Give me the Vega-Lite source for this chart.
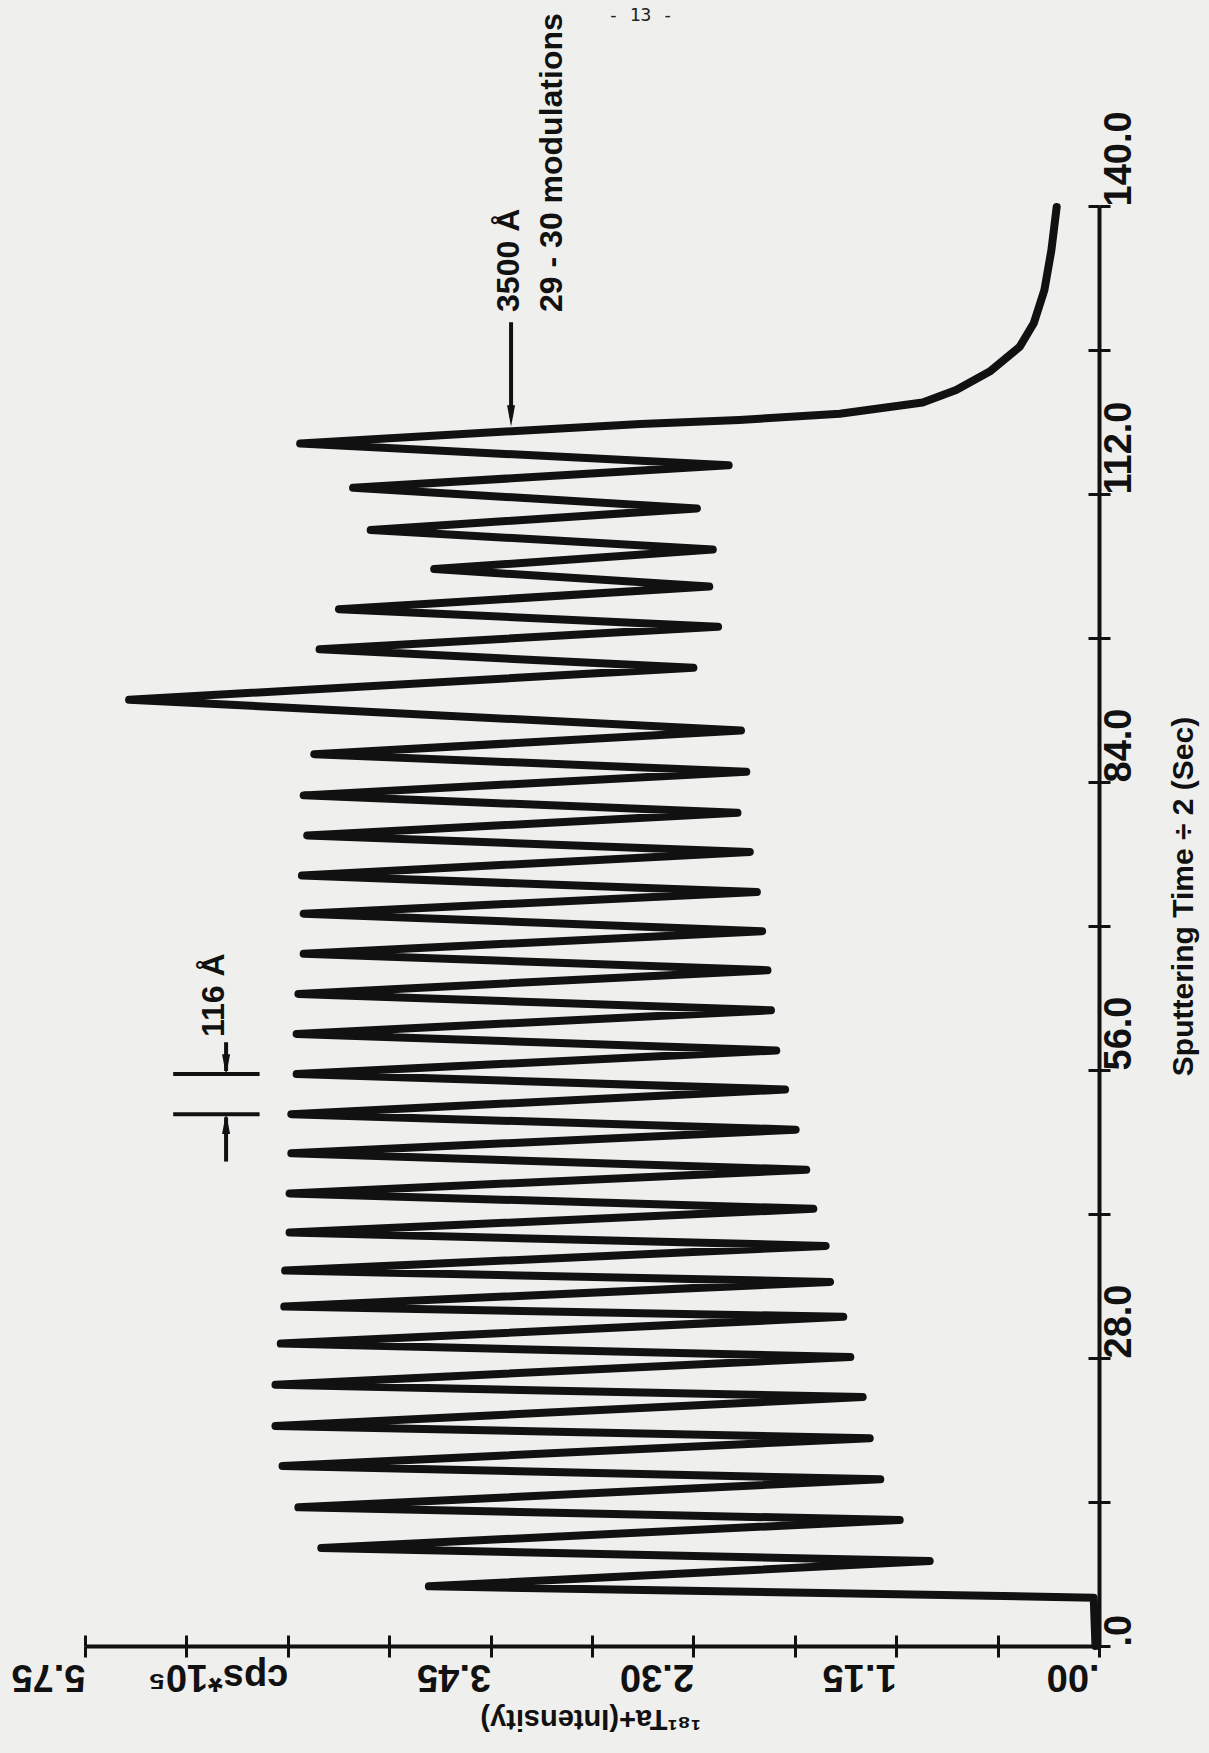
{
  "$schema": "https://vega.github.io/schema/vega-lite/v6.json",
  "width": 1014,
  "height": 1440,
  "autosize": {"type": "none"},
  "padding": {"left": 85, "top": 206, "right": 110, "bottom": 107},
  "background": "#efefed",
  "config": {"view": {"stroke": null}},
  "encoding": {
    "x": {
      "field": "I", "type": "quantitative",
      "scale": {"domain": [5.75, 0], "nice": false, "zero": false},
      "axis": {
        "orient": "bottom",
        "values": [0, 0.575, 1.15, 1.725, 2.3, 2.875, 3.45, 4.025, 4.6, 5.175, 5.75],
        "labelExpr": "datum.value < 0.01 ? '.00' : (abs(datum.value - 4.6) < 0.01 ? 'cps*10⁵' : (round(datum.value / 0.575) % 2 == 1 ? '' : format(datum.value, '.2f')))",
        "labelAngle": 180, "labelAlign": "left", "labelBaseline": "alphabetic", "labelPadding": 7,
        "labelFont": "Liberation Sans", "labelFontWeight": "bold", "labelFontSize": 38, "labelColor": "#111",
        "labelOverlap": false, "labelFlush": false, "labelBound": false,
        "tickSize": 11, "tickWidth": 3, "tickColor": "#111",
        "domainWidth": 4, "domainColor": "#111",
        "grid": true, "gridDash": [11, 3000], "gridWidth": 3, "gridColor": "#111", "gridOpacity": 1,
        "title": "¹⁸¹Ta+(Intensity)", "titleAngle": 180, "titleX": 505, "titleY": 63,
        "titleAlign": "center", "titleBaseline": "alphabetic",
        "titleFont": "Liberation Sans", "titleFontWeight": "bold", "titleFontSize": 29, "titleColor": "#111"
      }
    },
    "y": {
      "field": "t", "type": "quantitative",
      "scale": {"domain": [140, 0], "reverse": true, "nice": false, "zero": false},
      "axis": {
        "orient": "right",
        "values": [0, 14, 28, 42, 56, 70, 84, 98, 112, 126, 140],
        "labelExpr": "datum.value == 0 ? '.0' : (datum.value % 28 == 0 ? format(datum.value, '.1f') : '')",
        "labelAngle": 270, "labelAlign": "left", "labelBaseline": "alphabetic", "labelPadding": 20,
        "labelFont": "Liberation Sans", "labelFontWeight": "bold", "labelFontSize": 38, "labelColor": "#111",
        "labelOverlap": false, "labelFlush": false, "labelBound": false,
        "tickSize": 11, "tickWidth": 3, "tickColor": "#111",
        "domainWidth": 4, "domainColor": "#111",
        "grid": true, "gridDash": [11, 3000], "gridWidth": 3, "gridColor": "#111", "gridOpacity": 1,
        "title": "Sputtering Time ÷ 2 (Sec)", "titleAngle": 270, "titleX": 93, "titleY": 690,
        "titleAlign": "center", "titleBaseline": "alphabetic",
        "titleFont": "Liberation Sans", "titleFontWeight": "bold", "titleFontSize": 30, "titleColor": "#111"
      }
    }
  },
  "layer": [
    {
      "data": {"values": [
        {"t": 0, "I": 0.02}, {"t": 4.7, "I": 0.03}, {"t": 5.8, "I": 3.8},
        {"t": 8.26, "I": 0.96}, {"t": 9.53, "I": 4.41}, {"t": 12.25, "I": 1.13},
        {"t": 13.48, "I": 4.54}, {"t": 16.2, "I": 1.24}, {"t": 17.5, "I": 4.63},
        {"t": 20.2, "I": 1.3}, {"t": 21.4, "I": 4.67}, {"t": 24.2, "I": 1.34},
        {"t": 25.4, "I": 4.67}, {"t": 28.1, "I": 1.41}, {"t": 29.4, "I": 4.64},
        {"t": 32.0, "I": 1.45}, {"t": 33.0, "I": 4.62}, {"t": 35.4, "I": 1.525},
        {"t": 36.5, "I": 4.615}, {"t": 38.9, "I": 1.55}, {"t": 40.2, "I": 4.59},
        {"t": 42.5, "I": 1.62}, {"t": 44.0, "I": 4.59}, {"t": 46.3, "I": 1.66},
        {"t": 47.9, "I": 4.58}, {"t": 50.2, "I": 1.72}, {"t": 51.7, "I": 4.58},
        {"t": 54.1, "I": 1.78}, {"t": 55.6, "I": 4.55}, {"t": 57.9, "I": 1.83},
        {"t": 59.5, "I": 4.55}, {"t": 61.8, "I": 1.86}, {"t": 63.4, "I": 4.54},
        {"t": 65.7, "I": 1.88}, {"t": 67.3, "I": 4.51}, {"t": 69.5, "I": 1.91},
        {"t": 71.2, "I": 4.51}, {"t": 73.3, "I": 1.94}, {"t": 74.9, "I": 4.52},
        {"t": 77.2, "I": 1.98}, {"t": 78.8, "I": 4.49}, {"t": 81.0, "I": 2.05},
        {"t": 82.7, "I": 4.51}, {"t": 85.0, "I": 2.0}, {"t": 86.7, "I": 4.45},
        {"t": 89.0, "I": 2.03}, {"t": 92.0, "I": 5.5}, {"t": 95.1, "I": 2.3},
        {"t": 96.9, "I": 4.42}, {"t": 99.1, "I": 2.16}, {"t": 100.8, "I": 4.31},
        {"t": 103.0, "I": 2.21}, {"t": 104.7, "I": 3.77}, {"t": 106.6, "I": 2.19},
        {"t": 108.5, "I": 4.13}, {"t": 110.6, "I": 2.28}, {"t": 112.6, "I": 4.23},
        {"t": 114.8, "I": 2.1}, {"t": 116.9, "I": 4.53}, {"t": 118.1, "I": 3.33},
        {"t": 118.8, "I": 2.6}, {"t": 119.2, "I": 2.04}, {"t": 119.8, "I": 1.47},
        {"t": 120.9, "I": 1.0}, {"t": 122.1, "I": 0.81}, {"t": 123.9, "I": 0.62},
        {"t": 126.3, "I": 0.45}, {"t": 128.6, "I": 0.37}, {"t": 131.8, "I": 0.31},
        {"t": 135.7, "I": 0.27}, {"t": 139.9, "I": 0.24}
      ]},
      "mark": {"type": "line", "strokeWidth": 8, "strokeJoin": "round", "strokeCap": "round", "color": "#111"},
      "encoding": {"order": {"field": "t", "type": "quantitative"}}
    },
    {
      "data": {"values": [
        {"I": 5.25, "I2": 4.76, "t": 55.6, "t2": 55.6},
        {"I": 5.25, "I2": 4.76, "t": 51.7, "t2": 51.7},
        {"I": 4.95, "I2": 4.95, "t": 58.7, "t2": 55.9},
        {"I": 4.95, "I2": 4.95, "t": 51.4, "t2": 47.1},
        {"I": 3.334, "I2": 3.334, "t": 128.7, "t2": 119.5}
      ]},
      "mark": {"type": "rule", "strokeWidth": 4, "color": "#111"},
      "encoding": {
        "x2": {"field": "I2"},
        "y2": {"field": "t2"}
      }
    },
    {
      "data": {"values": [
        {"I": 4.95, "t": 56.5, "dir": "down"},
        {"I": 4.95, "t": 50.8, "dir": "up"},
        {"I": 3.334, "t": 119.6, "dir": "down"}
      ]},
      "mark": {"type": "point", "filled": true, "opacity": 1, "color": "#111", "size": 450},
      "encoding": {
        "shape": {
          "field": "dir", "type": "nominal",
          "scale": {"domain": ["down", "up"], "range": ["M-0.38,-1L0.38,-1L0,1Z", "M-0.38,1L0.38,1L0,-1Z"]},
          "legend": null
        }
      }
    },
    {
      "data": {"values": [
        {"I": 3.345, "t": 129.7, "label": "3500 Å"},
        {"I": 3.099, "t": 129.7, "label": "29 - 30 modulations"},
        {"I": 5.018, "t": 59.2, "label": "116 Å"}
      ]},
      "mark": {"type": "text", "angle": 270, "align": "left", "baseline": "middle", "font": "Liberation Sans", "fontWeight": "bold", "fontSize": 32, "color": "#111"},
      "encoding": {"text": {"field": "label"}}
    },
    {
      "data": {"values": [{"I": 2.6, "t": 158.5, "label": "- 13 -"}]},
      "mark": {"type": "text", "align": "center", "baseline": "middle", "font": "DejaVu Sans Mono", "fontSize": 18, "color": "#222"},
      "encoding": {"text": {"field": "label"}}
    }
  ]
}
